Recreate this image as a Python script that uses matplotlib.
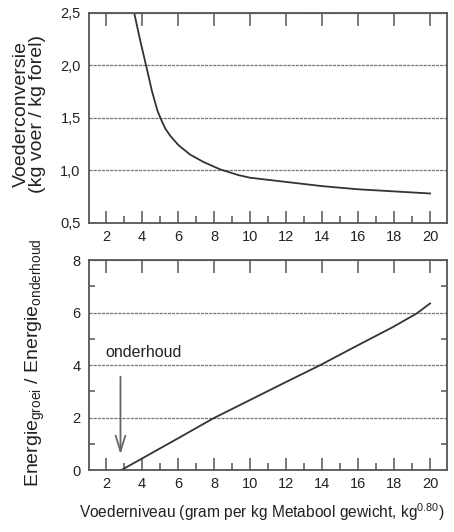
import matplotlib
matplotlib.use('Agg')
import matplotlib.pyplot as plt
from matplotlib import ticker, font_manager

# voederconversie (boven)
conv_x = [3.56, 3.89, 4.22, 4.54, 4.85, 5.04, 5.28, 5.56, 6.02, 6.67, 7.41, 8.33,
          9.35, 10.0, 11.0, 12.0, 13.0, 14.0, 15.0, 16.0, 17.0, 18.0, 19.0, 20.0]
conv_y = [2.5, 2.24, 2.0, 1.76, 1.57, 1.49, 1.40, 1.33, 1.24, 1.15, 1.08, 1.01,
          0.955, 0.93, 0.91, 0.89, 0.87, 0.85, 0.835, 0.82, 0.81, 0.80, 0.79, 0.78]

# energie groei / energie onderhoud (onder)
en_x = [2.85, 4.0, 6.0, 7.96, 10.0, 12.04, 13.9, 16.0, 17.96, 19.26, 20.0]
en_y = [0.0, 0.44, 1.21, 1.97, 2.67, 3.37, 4.0, 4.76, 5.46, 5.97, 6.35]

x_ticks = [2, 4, 6, 8, 10, 12, 14, 16, 18, 20]
conv_ticks = [0.5, 1.0, 1.5, 2.0, 2.5]
en_ticks = [0, 2, 4, 6, 8]

arrow_x = 2.8
arrow_top, arrow_tip = 3.56, 0.6

names = {f.name for f in font_manager.fontManager.ttflist}
if 'Liberation Sans Narrow' in names:
    narrow, big, xl_size, tick_size = 'Liberation Sans Narrow', 13, 13, 11.5
else:
    narrow, big, xl_size, tick_size = 'Liberation Sans', 11.5, 11.2, 10.5
plt.rcParams['font.family'] = [narrow, 'DejaVu Sans']

spine_c = '#555555'
line_c = '#333333'
grid_c = '#777777'
text_c = '#222222'

fig = plt.figure(figsize=(4.54, 5.32), dpi=100)
ax1 = fig.add_axes([0.196, 0.581, 0.789, 0.395])
ax2 = fig.add_axes([0.196, 0.1165, 0.789, 0.3945])


def style(ax):
    for s in ax.spines.values():
        s.set_color(spine_c)
        s.set_linewidth(1.3)
    ax.set_xlim(1.05, 20.95)
    ax.set_xticks(x_ticks)
    ax.xaxis.set_minor_locator(ticker.MultipleLocator(1))
    ax.tick_params(axis='x', which='major', direction='in', length=9, width=1.1,
                   top=True, bottom=True, color=spine_c, labelsize=tick_size,
                   labelcolor=text_c, pad=5)
    ax.tick_params(axis='x', which='minor', direction='in', length=5, width=1.1,
                   top=False, bottom=True, color=spine_c)
    ax.tick_params(axis='y', which='major', length=0, labelsize=tick_size,
                   labelcolor=text_c, pad=6)
    ax.grid(axis='y', which='major', color=grid_c, linestyle=(0, (2.5, 0.8)), linewidth=0.9)


style(ax1)
ax1.plot(conv_x, conv_y, color=line_c, linewidth=1.3)
ax1.set_ylim(0.5, 2.5)
ax1.set_yticks(conv_ticks)
ax1.yaxis.set_major_formatter(ticker.FuncFormatter(lambda v, p: f'{v:.1f}'.replace('.', ',')))

style(ax2)
ax2.plot(en_x, en_y, color=line_c, linewidth=1.3)
ax2.set_ylim(0, 8)
ax2.set_yticks(en_ticks)
ax2.yaxis.set_minor_locator(ticker.MultipleLocator(1))
ax2.tick_params(axis='y', which='minor', direction='in', length=4, width=1.1,
                left=True, right=True, color=spine_c)
ax2.annotate('', xy=(arrow_x, arrow_tip), xytext=(arrow_x, arrow_top),
             arrowprops=dict(arrowstyle='->,head_length=0.8,head_width=0.25',
                             color='#666666', lw=1.3, mutation_scale=14,
                             shrinkA=0, shrinkB=0))
ax2.text(1.95, 4.3, 'onderhoud', fontsize=big, color=text_c, ha='left', va='baseline')

# x-as titel iets links van het midden, zoals in het origineel
fig.text(262 / 454, 1 - 512 / 532,
         'Voederniveau (gram per kg Metabool gewicht, kg$^{\\mathregular{0.80}}$)',
         ha='center', va='center', fontsize=xl_size, color=text_c)

fig.text(29.5 / 454, 1 - 114 / 532, 'Voederconversie\n(kg voer / kg forel)',
         rotation=90, ha='center', va='center', fontsize=14, color=text_c,
         family='Liberation Sans', linespacing=0.95, multialignment='center')
fig.text(35 / 454, 1 - 363 / 532,
         'Energie$_{\\mathregular{groei}}$ / Energie$_{\\mathregular{onderhoud}}$',
         rotation=90, ha='center', va='center', fontsize=14, color=text_c,
         family='Liberation Sans')

fig.savefig('out.png', dpi=100)
